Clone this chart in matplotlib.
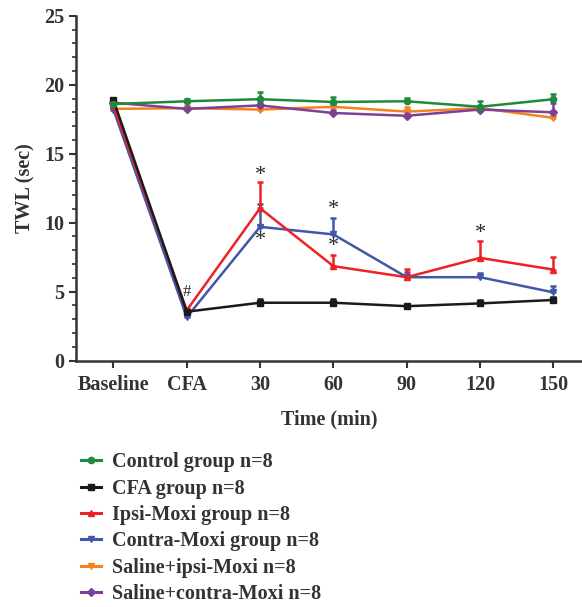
import numpy as np
import matplotlib
matplotlib.use("Agg")
import matplotlib.pyplot as plt
from matplotlib.ticker import MultipleLocator
from matplotlib.lines import Line2D

plt.rcParams['font.family'] = ['Liberation Serif', 'DejaVu Serif']
plt.rcParams['font.weight'] = 'bold'

# valori
time_labels = ["Baseline", "CFA", "30", "60", "90", "120", "150"]

control = [18.6, 18.8, 18.95, 18.75, 18.8, 18.4, 18.95]
control_err = [0.2, 0.15, 0.5, 0.35, 0.25, 0.4, 0.35]
cfa = [18.9, 3.55, 4.2, 4.2, 3.95, 4.15, 4.4]
cfa_err = [0.1, 0.1, 0.25, 0.25, 0.15, 0.25, 0.25]
ipsi = [18.5, 3.65, 11.05, 6.85, 6.05, 7.45, 6.6]
ipsi_err = [0.2, 0.1, 1.9, 0.8, 0.6, 1.25, 0.95]
contra = [18.2, 3.15, 9.7, 9.15, 6.05, 6.05, 4.95]
contra_err = [0.2, 0.1, 1.65, 1.2, 0.4, 0.3, 0.45]
saline_ipsi = [18.25, 18.3, 18.2, 18.4, 18.05, 18.3, 17.6]
saline_ipsi_err = [0.1, 0.1, 0.2, 0.3, 0.35, 0.1, 0.2]
saline_contra = [18.7, 18.25, 18.5, 17.95, 17.75, 18.2, 18.0]
saline_contra_err = [0.1, 0.1, 0.2, 0.2, 0.2, 0.15, 0.7]

# asterischi e cancelletto (indice x, y)
star_x = [2, 2, 3, 3, 5]
star_y = [13.4, 8.7, 10.95, 8.3, 9.25]
hash_x = [1]
hash_y = [4.95]

series = [
    ("Saline+ipsi-Moxi n=8", saline_ipsi, saline_ipsi_err, "#f58220", "v"),
    ("Saline+contra-Moxi n=8", saline_contra, saline_contra_err, "#7d3f98", "D"),
    ("Contra-Moxi group n=8", contra, contra_err, "#4357a8", "v"),
    ("Ipsi-Moxi group n=8", ipsi, ipsi_err, "#ec2227", "^"),
    ("CFA group n=8", cfa, cfa_err, "#1a1a1a", "s"),
    ("Control group n=8", control, control_err, "#1f8a3c", "o"),
]
legend_order = ["Control group n=8", "CFA group n=8", "Ipsi-Moxi group n=8",
                "Contra-Moxi group n=8", "Saline+ipsi-Moxi n=8", "Saline+contra-Moxi n=8"]

fig = plt.figure(figsize=(5.82, 6.07), dpi=100)
ax = fig.add_axes([0.1306, 0.4058, 0.8694, 0.5683])

x = np.arange(len(time_labels))
handles = {}
for name, y, err, col, mk in series:
    err = np.array(err)
    ax.errorbar(x, y, yerr=[np.zeros_like(err), err], color=col, marker=mk,
                markersize=4.5, linewidth=1.8, elinewidth=1.8, capsize=2.5,
                capthick=1.8)
    handles[name] = Line2D([], [], color=col, marker=mk, markersize=4.5, linewidth=2.2)

for sx, sy in zip(star_x, star_y):
    ax.text(sx, sy, "*", ha="center", va="center", fontsize=16, fontweight="normal",
            color="#2a2a2a")
for hx, hy in zip(hash_x, hash_y):
    ax.text(hx, hy, "#", ha="center", va="center", fontsize=12, fontweight="normal",
            color="#2a2a2a")

ax.set_xlim(-0.51, 6.39)
ax.set_ylim(0, 25)
ax.set_xticks(x)
ax.set_xticklabels(time_labels)
ax.yaxis.set_major_locator(MultipleLocator(5))
ax.yaxis.set_minor_locator(MultipleLocator(1))
ax.tick_params(axis="both", which="major", labelsize=14.5, width=1.5, length=5,
               colors="#333333", labelcolor="#333333")
ax.tick_params(axis="x", which="major", pad=5.5)
ax.tick_params(axis="y", which="minor", width=1.2, length=3, colors="#333333")
for s in ["top", "right"]:
    ax.spines[s].set_visible(False)
for s in ["left", "bottom"]:
    ax.spines[s].set_linewidth(1.8)
    ax.spines[s].set_color("#333333")

ax.set_xlabel("Time (min)", fontsize=14.5, fontweight="bold", color="#333333", labelpad=10)
ax.set_ylabel("TWL (sec)", fontsize=14.5, fontweight="bold", color="#333333", labelpad=6)

fig.legend([handles[n] for n in legend_order], legend_order,
           loc="upper left", bbox_to_anchor=(0.108, 0.285), frameon=False,
           fontsize=14.5, labelspacing=0.32, handlelength=1.0, handletextpad=0.55,
           labelcolor="#333333")

fig.savefig("out.png", dpi=100)
